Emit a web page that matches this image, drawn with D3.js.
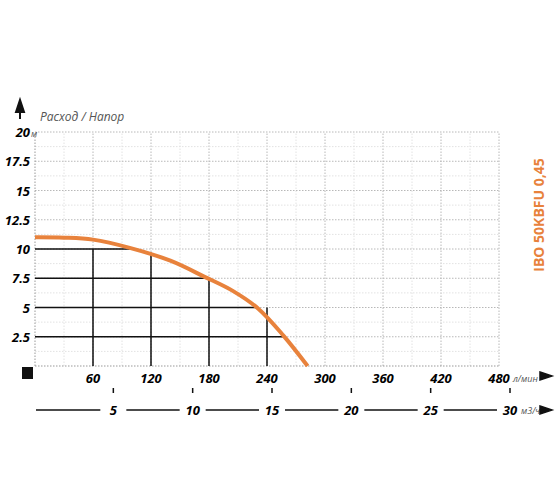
<!DOCTYPE html><html><head><meta charset="utf-8"><script src="https://cdn.jsdelivr.net/npm/d3@7"></script>
<style>body{margin:0;background:#fff}</style></head><body><svg id="c" width="560" height="504"></svg><script>
const flowTicks=[60,120,180,240,300,360,420,480];
const headTicks=[2.5,5,7.5,10,12.5,15,17.5,20];
const m3Ticks=[5,10,15,20,25,30];
const curveQ=[0,30,60,98,140,176,205,231,257,282];
const curveH=[11,10.97,10.8,10.1,9.0,7.6,6.4,4.9,2.6,0];
const stepQ=[60,120,180,240];
const stepH=[10,9.7,7.5,5];
const rowH=[10,7.5,5,2.5];
const rowQ=[98,176,231,257];
const svg=d3.select("#c");
const x=d3.scaleLinear().domain([0,480]).range([35,499]);
const y=d3.scaleLinear().domain([0,20]).range([366,132]);
const x2=d3.scaleLinear().domain([0,30]).range([34,510]);
const F="Open Sans, sans-serif";
const g=svg.append("g");
d3.range(30,481,30).forEach(v=>g.append("line").attr("x1",x(v)).attr("x2",x(v)).attr("y1",y(0)).attr("y2",y(20)).attr("stroke",v%60?"#e2e2e2":"#b8b8b8").attr("stroke-dasharray","1.5,1.5"));
d3.range(1.25,20.01,1.25).forEach(v=>g.append("line").attr("x1",x(0)).attr("x2",x(480)).attr("y1",y(v)).attr("y2",y(v)).attr("stroke",(v%2.5)?"#e2e2e2":"#b8b8b8").attr("stroke-dasharray","1.5,1.5"));
g.append("line").attr("x1",x(0)).attr("x2",x(0)).attr("y1",y(0)).attr("y2",y(20)).attr("stroke","#999").attr("stroke-dasharray","1.5,1.5");
g.append("line").attr("x1",x(0)).attr("x2",x(480)).attr("y1",y(0)).attr("y2",y(0)).attr("stroke","#999").attr("stroke-dasharray","1.5,1.5");
stepQ.forEach((q,i)=>svg.append("line").attr("x1",x(q)).attr("x2",x(q)).attr("y1",y(0)).attr("y2",y(stepH[i])).attr("stroke","#111").attr("stroke-width",1.5));
rowH.forEach((h,i)=>svg.append("line").attr("x1",x(0)).attr("x2",x(rowQ[i])).attr("y1",y(h)).attr("y2",y(h)).attr("stroke","#111").attr("stroke-width",1.5));
svg.append("path").datum(curveQ.map((q,i)=>[q,curveH[i]])).attr("d",d3.line().x(d=>x(d[0])).y(d=>y(d[1])).curve(d3.curveCatmullRom)).attr("fill","none").attr("stroke","#e8823c").attr("stroke-width",4);
headTicks.forEach(v=>svg.append("text").attr("x",30).attr("y",y(v)+5).attr("text-anchor","end").attr("font-family",F).attr("font-weight",700).attr("font-style","italic").attr("font-size",13).text(v));
svg.append("text").attr("x",31).attr("y",y(20)+5).attr("font-family",F).attr("font-style","italic").attr("font-size",9).attr("fill","#555").text("м");
svg.append("text").attr("x",40).attr("y",121).attr("font-family",F).attr("font-style","italic").attr("font-size",12).attr("fill","#555").text("Расход / Напор");
svg.append("path").attr("d","M20,119 V108 M16,112 L20,100 L24,112 Z").attr("stroke","#111").attr("stroke-width",2).attr("fill","#111");
svg.append("rect").attr("x",22).attr("y",367).attr("width",11).attr("height",12).attr("fill","#111");
flowTicks.forEach(v=>svg.append("text").attr("x",x(v)).attr("y",383).attr("text-anchor","middle").attr("font-family",F).attr("font-weight",700).attr("font-style","italic").attr("font-size",13).text(v));
svg.append("text").attr("x",513).attr("y",382).attr("font-family",F).attr("font-style","italic").attr("font-size",9).attr("fill","#555").text("л/мин");
svg.append("path").attr("d","M540,376 H548 M540,372 L552,376 L540,380 Z").attr("stroke","#111").attr("stroke-width",1.5).attr("fill","#111");
const ly=410;
let prev=36;
m3Ticks.forEach(v=>{const px=x2(v);
 svg.append("line").attr("x1",prev).attr("x2",px-13).attr("y1",ly).attr("y2",ly).attr("stroke","#111").attr("stroke-width",1.5);
 svg.append("line").attr("x1",px).attr("x2",px).attr("y1",388).attr("y2",393).attr("stroke","#111").attr("stroke-width",1.5);
 svg.append("text").attr("x",px).attr("y",ly+5).attr("text-anchor","middle").attr("font-family",F).attr("font-weight",700).attr("font-style","italic").attr("font-size",13).text(v);
 prev=px+13;});
svg.append("text").attr("x",521).attr("y",414).attr("font-family",F).attr("font-style","italic").attr("font-size",9).attr("fill","#555").text("м3/ч");
svg.append("path").attr("d","M540,410 H548 M540,406 L552,410 L540,414 Z").attr("stroke","#111").attr("stroke-width",1.5).attr("fill","#111");
svg.append("text").attr("transform","translate(544,215) rotate(-90)").attr("text-anchor","middle").attr("font-family",F).attr("font-weight",700).attr("font-size",14).attr("fill","#e8823c").text("IBO 50KBFU 0,45");
</script></body></html>
